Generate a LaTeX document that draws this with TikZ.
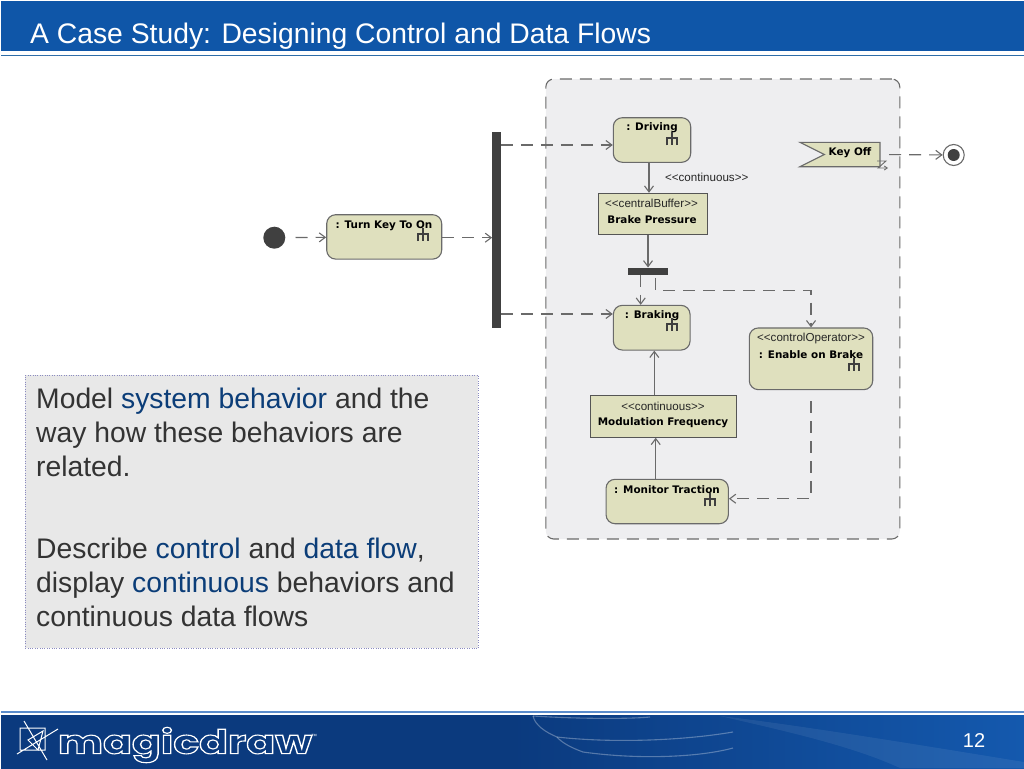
\documentclass[tikz,border=0pt]{standalone}
\usepackage{fontspec}
\setmainfont{Liberation Sans}
\newfontfamily\umlfont{DejaVu Sans}
\newfontfamily\logofont{Poppins}
\usetikzlibrary{arrows.meta}
\definecolor{headblue}{HTML}{0F56A8}
\definecolor{footblue}{HTML}{0B3A7E}
\definecolor{footright}{HTML}{1459AE}
\definecolor{inkblue}{HTML}{0B3D78}
\definecolor{actfill}{HTML}{DFE0BE}
\definecolor{umlgray}{HTML}{6A6A6A}
\definecolor{bardark}{HTML}{404040}
\definecolor{framefill}{HTML}{EEEEF0}
\definecolor{rulelight}{HTML}{5B8CCB}
\definecolor{ruledark}{HTML}{2E6DA8}
\tikzset{
	action/.style   = {draw=umlgray, line width=1.1pt, fill=actfill, rounded corners=9pt, inner sep=0pt},
	objbox/.style   = {draw=umlgray!80!black, line width=1pt, fill=actfill, inner sep=0pt},
	bar/.style      = {fill=bardark, inner sep=0pt},
	umlname/.style  = {font=\umlfont\fontsize{10.4}{12}\selectfont\bfseries, text=black, inner sep=0pt},
	stereo/.style   = {font=\fontsize{11.6}{13}\selectfont, text=black!85, inner sep=0pt},
	flow/.style     = {draw=umlgray, line width=1.1pt, -{Straight Barb[length=6pt,width=9pt]}},
	ctrl/.style     = {flow, dash pattern=on 12pt off 8pt},
	sheen/.style    = {draw=white, opacity=0.3, line width=1.1pt},
	rake/.pic       = {\draw[umlgray!60!black, line width=1.9pt] (0,-6.5) -- (0,7) (-5,7) -- (-5,0) -- (5,0) -- (5,7);}
}
\newcommand{\blueword}[1]{\textcolor{inkblue}{#1}}
\newcommand{\outlined}[1]{\special{pdf:code 1 Tr 1.1 w}#1\special{pdf:code 0 Tr}}
\begin{document}
\begin{tikzpicture}[x=1pt, y=-1pt, >=latex]
	\useasboundingbox (0,0) rectangle (1024,768);
	% Slide header and footer
	\fill[headblue] (1,1) rectangle (1024,51);
	\fill[ruledark] (1,55) rectangle (1024,56.5);
	\shade[left color=footblue, right color=footright, middle color=footblue] (1,715) rectangle (1024,768);
	\fill[rulelight] (1,710.5) rectangle (1024,712.5);
	\draw[sheen] (533,716) .. controls (580,719) and (630,719) .. (650,717);
	\draw[sheen] (533,716) .. controls (535,725) and (545,732) .. (557,737) .. controls (610,743) and (680,741) .. (733,732);
	\draw[sheen] (557,737) .. controls (562,743) and (572,748) .. (583,752) .. controls (640,760) and (700,757) .. (733,748);
	\fill[white, opacity=0.07] (720,716) .. controls (800,725) and (950,750) .. (1024,762) -- (1024,768) -- (900,768) .. controls (850,745) and (780,730) .. (720,716);
	\draw
	node at (30,36)[anchor=west, inner sep=0pt, text=white, font=\fontsize{28.3}{30}\selectfont] (title) {A Case Study: Designing Control and Data Flows}
	node at (974,741)[inner sep=0pt, text=white, font=\fontsize{20}{22}\selectfont] (pageno) {12}
	node at (185,745)[inner sep=0pt, text=white, font=\logofont\fontsize{33}{33}\selectfont\bfseries] (logo) {\scalebox{1.29}[1]{\outlined{magicdraw}}}
	node at (314,736)[inner sep=0pt, text=white, font=\fontsize{6}{6}\selectfont] (logotm) {™};
	% Logo mark
	\draw[white, line width=1pt] (20,728) rectangle (45,750) (24,721) -- (47,760) (17,754) -- (58,729) (28,740) -- (43,731) -- (38,750) -- cycle;

	% Text panel
	\node at (251.6,511.5)[draw=gray!70!blue!70, dotted, fill=black!9, minimum width=453pt, minimum height=273pt, inner sep=0pt] (panel) {};
	\node[anchor=north west, inner sep=0pt, align=left, text=black!80, font=\fontsize{28.3}{34}\selectfont] at (36,388.2) (paneltext)
	{Model \blueword{system behavior} and the\\way how these behaviors are\\related.\\[48pt]Describe \blueword{control} and \blueword{data flow},\\display \blueword{continuous} behaviors and\\continuous data flows};

	% Activity frame
	\node at (722.8,309)[draw=umlgray, line width=1.1pt, fill=framefill, rounded corners=8pt, dash pattern=on 12pt off 8pt, minimum width=354pt, minimum height=460pt, inner sep=0pt] (frame) {};

	% Drawing the blocks
	\draw
	node at (274.3,237.7)[circle, bar, minimum size=22pt] (start) {}
	node at (384.2,236.9)[action, minimum width=115pt, minimum height=44.4pt] (turnkey) {}
	node at (384,225.5)[umlname] (turnkeyname) {: Turn Key To On}
	node at (496.5,229.9)[bar, minimum width=8.4pt, minimum height=196.4pt] (fork) {}
	node at (652,140)[action, minimum width=77.4pt, minimum height=44.6pt] (driving) {}
	node at (652,128)[umlname] (drivingname) {: Driving}
	node at (653,214)[objbox, minimum width=109.4pt, minimum height=41.4pt] (buffer) {}
	node at (651.5,203)[stereo] (bufferstereo) {<{}<centralBuffer>{}>}
	node at (652,219.5)[umlname] (buffername) {Brake Pressure}
	node at (648.3,271.2)[bar, minimum width=40pt, minimum height=7pt] (join) {}
	node at (651.7,327.7)[action, minimum width=76.7pt, minimum height=44.7pt] (braking) {}
	node at (652,315.8)[umlname] (brakingname) {: Braking}
	node at (811,358.8)[action, minimum width=123.4pt, minimum height=61.7pt] (enable) {}
	node at (811,338)[stereo] (enablestereo) {<{}<controlOperator>{}>}
	node at (811,354.5)[umlname] (enablename) {: Enable on Brake}
	node at (663.7,416.6)[objbox, minimum width=146pt, minimum height=41.3pt] (modulation) {}
	node at (663,406)[stereo] (modstereo) {<{}<continuous>{}>}
	node at (663,422.5)[umlname] (modname) {Modulation Frequency}
	node at (667.2,501.5)[action, minimum width=122.3pt, minimum height=44.4pt] (monitor) {}
	node at (667,489.5)[umlname] (monitorname) {: Monitor Traction}
	node at (706.7,177)[stereo] (flowlabel) {<{}<continuous>{}>}
	node at (953.7,155)[circle, draw=umlgray, line width=1.1pt, fill=white, minimum size=21pt, inner sep=0pt] (final) {}
	node at (953.7,155)[circle, bar, minimum size=12pt] (finaldot) {};

	% Signal shape
	\filldraw[draw=umlgray, line width=1.1pt, fill=actfill] (800,142.3) -- (880,142.3) -- (880,166.7) -- (800,166.7) -- (824.3,154.5) -- cycle;
	\node at (850,152.5)[umlname] (keyname) {Key Off};
	\coordinate (keyout) at (880,154.5);
	\draw[umlgray, line width=0.9pt, -{Straight Barb[length=3pt,width=4pt]}] (877,161) -- (886,161) -- (878,168) -- (888,168);

	% Rakes
	\path (672.3,138.3) pic {rake} (672.3,324.3) pic {rake} (854,364) pic {rake} (710,499.3) pic {rake} (423.3,234) pic {rake};

	% Connectors
	\draw[ctrl, shorten <=10pt] (start) -- (turnkey);
	\draw[ctrl] (turnkey.east |- start) -- (fork.west |- start);
	\draw[ctrl] ([yshift=-5pt]driving.west -| fork.east) -- ([yshift=-5pt]driving.west);
	\draw[ctrl] ([yshift=13.7pt]braking.west -| fork.east) -- ([yshift=13.7pt]braking.west);
	\draw[flow] ([xshift=-3pt]driving.south) -- ([xshift=-3pt]driving.south |- buffer.north);
	\draw[flow] ([xshift=-5pt]buffer.south) -- ([xshift=-5pt]buffer.south |- join.north);
	\draw[ctrl] ([xshift=-7.6pt]join.south) -- ([xshift=-7.6pt]join.south |- braking.north);
	\draw[ctrl, shorten <=3pt] ([xshift=7.4pt]join.south) |- ([yshift=-15.3pt]join.south -| enable.north) -- (enable.north);
	\draw[ctrl, shorten <=11pt] (enable.south) |- ([yshift=2.8pt]monitor.east);
	\draw[flow] ([xshift=-11.5pt]monitor.north) -- ([xshift=-11.5pt]monitor.north |- modulation.south);
	\draw[flow] ([xshift=-9.4pt]modulation.north) -- ([xshift=-9.4pt]modulation.north |- braking.south);
	\draw[ctrl, shorten <=9pt] (keyout) -- (final);
\end{tikzpicture}
\end{document}
